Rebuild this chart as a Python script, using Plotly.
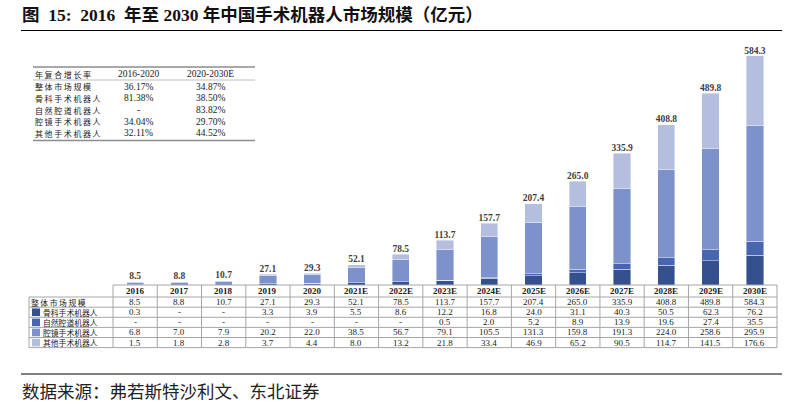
import plotly.graph_objects as go

years = ['2016', '2017', '2018', '2019', '2020', '2021E', '2022E', '2023E', '2024E',
         '2025E', '2026E', '2027E', '2028E', '2029E', '2030E']
total = [8.5, 8.8, 10.7, 27.1, 29.3, 52.1, 78.5, 113.7, 157.7, 207.4, 265.0, 335.9, 408.8, 489.8, 584.3]
ortho = [0.3, None, None, 3.3, 3.9, 5.5, 8.6, 12.2, 16.8, 24.0, 31.1, 40.3, 50.5, 62.3, 76.2]
natural = [None, None, None, None, None, None, None, 0.5, 2.0, 5.2, 8.9, 13.9, 19.6, 27.4, 35.5]
lapar = [6.8, 7.0, 7.9, 20.2, 22.0, 38.5, 56.7, 79.1, 105.5, 131.3, 159.8, 191.3, 224.0, 258.6, 295.9]
other = [1.5, 1.8, 2.8, 3.7, 4.4, 8.0, 13.2, 21.8, 33.4, 46.9, 65.2, 90.5, 114.7, 141.5, 176.6]

series_names = ['骨科手术机器人', '自然腔道机器人', '腔镜手术机器人', '其他手术机器人']
series_vals = [ortho, natural, lapar, other]
series_colors = ['#35508f', '#4866b0', '#7d91ca', '#b4bedf']
total_name = '整体市场规模'

cagr_header = ['年复合增长率', '2016-2020', '2020-2030E']
cagr_rows = ['整体市场规模', '骨科手术机器人', '自然腔道机器人', '腔镜手术机器人', '其他手术机器人']
cagr_1620 = ['36.17%', '81.38%', '-', '34.04%', '32.11%']
cagr_2030 = ['34.87%', '38.50%', '83.82%', '29.70%', '44.52%']

title = '图\u00a0 15:\u00a0 2016\u00a0 年至 2030 年中国手术机器人市场规模（亿元）'
source = '数据来源：弗若斯特沙利文、东北证券'

W, H = 802, 414
ML, MR, MT, MB = 113, 25, 40, 129
PW, PH = W - ML - MR, H - MT - MB
SERIF = 'Liberation Serif, Noto Sans CJK SC, serif'
CJK = 'Noto Sans CJK SC, sans-serif'


def px_x(x):
    return (x - ML) / PW


def px_y(y):
    return (H - MB - y) / PH


def text(x, y, s, font, xanchor='center', xref='paper'):
    return dict(x=x, y=y, xref=xref, yref='paper', text=s, showarrow=False,
                xanchor=xanchor, yanchor='middle', font=font, borderpad=0)


def spaced(s):
    return '\u2009'.join(s)


fig = go.Figure()
for name, vals, col in zip(series_names, series_vals, series_colors):
    fig.add_trace(go.Bar(x=years, y=[v if v is not None else 0 for v in vals], name=name,
                         marker=dict(color=col, line=dict(color='rgba(255,255,255,0.7)', width=0.6)),
                         width=0.39, showlegend=False, hoverinfo='skip'))

fig.add_trace(go.Scatter(x=years, y=total, mode='text', text=[f'{v:.1f}' for v in total],
                         textposition='top center', showlegend=False, hoverinfo='skip',
                         textfont=dict(family=SERIF, size=9.5, color='#404040', weight='bold')))

shapes = []
ann = []
grid = '#a6a6a6'
f_num = dict(family=SERIF, size=9, color='#222')
f_cjk = dict(family=CJK, size=7.8, color='#222')

# data table geometry (pixels)
row_edges = [285, 297, 307.2, 317.3, 327.4, 337.5, 347.6]
label_left = 29
n = len(years)
shapes.append(dict(type='line', xref='paper', yref='paper', x0=0, x1=1,
                   y0=px_y(row_edges[0]), y1=px_y(row_edges[0]), line=dict(color=grid, width=1)))
for ye in row_edges[1:]:
    shapes.append(dict(type='line', xref='paper', yref='paper', x0=px_x(label_left), x1=1,
                       y0=px_y(ye), y1=px_y(ye), line=dict(color=grid, width=1)))
shapes.append(dict(type='line', xref='paper', yref='paper', x0=px_x(label_left), x1=px_x(label_left),
                   y0=px_y(row_edges[1]), y1=px_y(row_edges[-1]), line=dict(color=grid, width=1)))
for i in range(n + 1):
    xb = i / n
    shapes.append(dict(type='line', xref='paper', yref='paper', x0=xb, x1=xb,
                       y0=px_y(row_edges[0]), y1=px_y(row_edges[-1]), line=dict(color=grid, width=1)))

centers = [(row_edges[k] + row_edges[k + 1]) / 2 for k in range(len(row_edges) - 1)]
for i, yr in enumerate(years):
    ann.append(text(i, px_y(centers[0]), f'<b>{yr}</b>', f_num, xref='x'))
fmt = lambda v: '-' if v is None else f'{v:.1f}'
rows = [(total_name, total, None)] + list(zip(series_names, series_vals, series_colors))
for k, (name, vals, col) in enumerate(rows):
    yc = px_y(centers[k + 1])
    lx = label_left + 1
    if col is not None:
        shapes.append(dict(type='rect', xref='paper', yref='paper', x0=px_x(32), x1=px_x(40),
                           y0=px_y(centers[k + 1] + 3.8), y1=px_y(centers[k + 1] - 3.8),
                           fillcolor=col, line=dict(width=0)))
        lx = 42
    ann.append(text(px_x(lx), yc, spaced(name) if col is None else name, f_cjk, xanchor='left'))
    for i, v in enumerate(vals):
        ann.append(text(i, yc, fmt(v), f_num, xref='x'))

# CAGR table
ct_l, ct_r = 33, 255
shapes.append(dict(type='line', xref='paper', yref='paper', x0=px_x(ct_l), x1=px_x(ct_r),
                   y0=px_y(67), y1=px_y(67), line=dict(color='#8c8c8c', width=1.5)))
shapes.append(dict(type='line', xref='paper', yref='paper', x0=px_x(ct_l), x1=px_x(ct_r),
                   y0=px_y(80), y1=px_y(80), line=dict(color='#b0b0b0', width=0.8)))
shapes.append(dict(type='line', xref='paper', yref='paper', x0=px_x(ct_l), x1=px_x(ct_r),
                   y0=px_y(140.5), y1=px_y(140.5), line=dict(color='#8c8c8c', width=1.5)))
col_x = [34, 138, 210]
f_cjk2 = dict(family=CJK, size=8, color='#222')
f_num2 = dict(family=SERIF, size=9.5, color='#222')
ann.append(text(px_x(col_x[0]), px_y(74), spaced(cagr_header[0]), f_cjk2, xanchor='left'))
for j in (1, 2):
    ann.append(text(px_x(col_x[j]), px_y(74), cagr_header[j], f_num2))
row_y = [86.5, 98.3, 110, 121.7, 133.3]
for k in range(len(cagr_rows)):
    ann.append(text(px_x(col_x[0]), px_y(row_y[k]), spaced(cagr_rows[k]), f_cjk2, xanchor='left'))
    ann.append(text(px_x(col_x[1]), px_y(row_y[k]), cagr_1620[k], f_num2))
    ann.append(text(px_x(col_x[2]), px_y(row_y[k]), cagr_2030[k], f_num2))

# title & source
ann.append(text(px_x(21), px_y(15), f'<b>{title}</b>',
                dict(family='Liberation Serif, Noto Sans CJK SC', size=17.5, color='#111'), xanchor='left'))
shapes.append(dict(type='line', xref='paper', yref='paper', x0=px_x(21), x1=px_x(782),
                   y0=px_y(30.5), y1=px_y(30.5), line=dict(color='#000', width=1)))
shapes.append(dict(type='line', xref='paper', yref='paper', x0=px_x(21), x1=px_x(782),
                   y0=px_y(374), y1=px_y(374), line=dict(color='#000', width=1)))
ann.append(text(px_x(21), px_y(390), source, dict(family=CJK, size=17.5, color='#222'), xanchor='left'))

fig.update_layout(
    width=W, height=H, barmode='stack', bargap=0.6,
    margin=dict(l=ML, r=MR, t=MT, b=MB, pad=0),
    paper_bgcolor='white', plot_bgcolor='white',
    xaxis=dict(type='category', range=[-0.5, n - 0.5], showticklabels=False, showgrid=False,
               zeroline=False, showline=False, ticks=''),
    yaxis=dict(range=[0, 625], showticklabels=False, showgrid=False, zeroline=False,
               showline=False, ticks=''),
    shapes=shapes, annotations=ann,
)
fig.write_html('out.html', config={'displayModeBar': False},
               post_script="document.body.style.margin='0';document.body.style.overflow='hidden';")
